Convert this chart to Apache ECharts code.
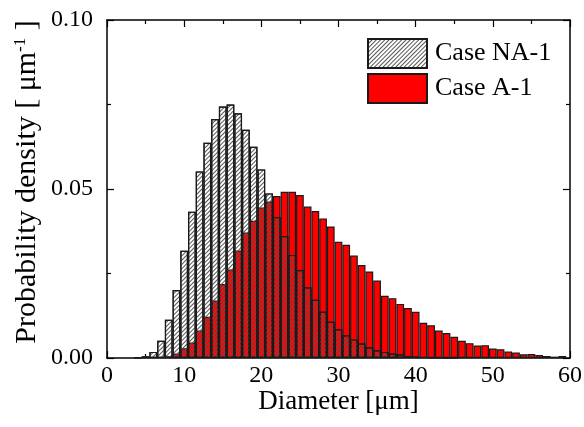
<!DOCTYPE html>
<html><head><meta charset="utf-8">
<script src="https://cdn.jsdelivr.net/npm/echarts@6/dist/echarts.min.js"></script>
<style>html,body{margin:0;padding:0;background:#fff}#c{width:584px;height:427px}</style>
</head><body><div id="c"></div>
<script>
// Bin centres (µm) and probability densities (µm^-1), 1 µm bins
const diametersNA = [4,5,6,7,8,9,10,11,12,13,14,15,16,17,18,19,20,21,22,23,24,25,26,27,28,29,30,31,32,33,34,35,36,37,38,39,40,41,42,43,44,45];
const densityNA = [0.0001,0.0005,0.0018,0.0051,0.0113,0.0201,0.0317,0.0433,0.0552,0.0637,0.0707,0.0744,0.0750,0.0724,0.0675,0.0625,0.0558,0.0487,0.0417,0.0361,0.0305,0.0260,0.0209,0.0172,0.0137,0.0107,0.0085,0.0067,0.0055,0.0043,0.0032,0.0023,0.0018,0.0013,0.0010,0.0006,0.0004,0.0003,0.0002,0.0002,0.0001,0.0001];
const diametersA = [8,9,10,11,12,13,14,15,16,17,18,19,20,21,22,23,24,25,26,27,28,29,30,31,32,33,34,35,36,37,38,39,40,41,42,43,44,45,46,47,48,49,50,51,52,53,54,55,56,57,58,59];
const densityA = [0.0005,0.0013,0.0029,0.0046,0.0081,0.0122,0.0170,0.0219,0.0262,0.0318,0.0371,0.0406,0.0445,0.0463,0.0479,0.0492,0.0492,0.0482,0.0448,0.0435,0.0413,0.0389,0.0344,0.0335,0.0303,0.0275,0.0256,0.0229,0.0184,0.0177,0.0160,0.0148,0.0137,0.0104,0.0097,0.0081,0.0074,0.0063,0.0051,0.0044,0.0037,0.0038,0.0028,0.0026,0.0019,0.0016,0.0011,0.0012,0.0009,0.0006,0.0004,0.0006];
const seriesNames = ['Case NA-1', 'Case A-1'];
const xRange = [0, 60], xStep = 10;
const yRange = [0, 0.10], yStep = 0.05;

const FONT = 'Liberation Serif';
const black = '#000';
const zip = (xs, ys) => xs.map((x, i) => [x, ys[i]]);

function xAx(pos, showLabel) {
  return {
    type: 'value', position: pos, min: xRange[0], max: xRange[1], interval: xStep,
    axisLine: { show: true, onZero: false, lineStyle: { color: black, width: 1.5 } },
    axisTick: { show: true, inside: true, length: 7, lineStyle: { color: black, width: 1.2 } },
    minorTick: { show: true, splitNumber: 2, length: 4, lineStyle: { color: black, width: 1.2 } },
    splitLine: { show: false }, minorSplitLine: { show: false },
    axisLabel: { show: showLabel, fontFamily: FONT, fontSize: 24, color: black, margin: 6 },
    name: showLabel ? 'Diameter [μm]' : '', nameLocation: 'middle', nameGap: 30, nameMoveOverlap: false,
    nameTextStyle: { fontFamily: FONT, fontSize: 27, color: black }
  };
}
function yAx(pos, showLabel) {
  return {
    type: 'value', position: pos, min: yRange[0], max: yRange[1], interval: yStep,
    axisLine: { show: true, onZero: false, lineStyle: { color: black, width: 1.5 } },
    axisTick: { show: true, inside: true, length: 7, lineStyle: { color: black, width: 1.2 } },
    minorTick: { show: true, splitNumber: 2, length: 4, lineStyle: { color: black, width: 1.2 } },
    splitLine: { show: false }, minorSplitLine: { show: false },
    axisLabel: { show: showLabel, fontFamily: FONT, fontSize: 24, color: black, margin: 14, formatter: v => v.toFixed(2) },
    name: showLabel ? '{t|Probability density [ μm}{s|-1}{t| ]}' : '', nameLocation: 'middle', nameGap: 65, nameMoveOverlap: false,
    nameTextStyle: { fontFamily: FONT, fontSize: 30, color: black, padding: [0, 0, 0, 14],
      rich: { t: { fontFamily: FONT, fontSize: 30, color: black }, s: { fontFamily: FONT, fontSize: 17, color: black, verticalAlign: 'top' } } }
  };
}

const chart = echarts.init(document.getElementById('c'), null, { renderer: 'canvas' });
chart.setOption({
  animation: false,
  backgroundColor: '#fff',
  grid: { left: 107, right: 14, top: 20, bottom: 69, containLabel: false, outerBoundsMode: 'none' },
  legend: {
    data: seriesNames, orient: 'vertical', left: 367, top: 38, padding: 0, itemWidth: 59, itemHeight: 29, itemGap: 4,
    icon: 'rect', selectedMode: false,
    textStyle: { fontFamily: FONT, fontSize: 26, color: black, padding: [0, 0, 0, 3] }
  },
  xAxis: [xAx('bottom', true), xAx('top', false)],
  yAxis: [yAx('left', true), yAx('right', false)],
  series: [
    {
      name: seriesNames[1], type: 'bar', xAxisIndex: 0, yAxisIndex: 0, data: zip(diametersA, densityA),
      barWidth: '100%', barGap: '-100%', z: 2,
      itemStyle: { color: '#ff0000', borderColor: '#1a1a1a', borderWidth: 1.2 }
    },
    {
      name: seriesNames[0], type: 'bar', xAxisIndex: 0, yAxisIndex: 0, data: zip(diametersNA, densityNA),
      barWidth: '100%', barGap: '-100%', z: 3,
      itemStyle: { color: 'rgba(255,255,255,0)', borderColor: '#1a1a1a', borderWidth: 1.2,
        decal: { symbol: 'rect', symbolSize: 1, dashArrayX: [1, 0], dashArrayY: [1, 2], rotation: -Math.PI / 4, color: '#555' } }
    }
  ]
});
</script></body></html>
